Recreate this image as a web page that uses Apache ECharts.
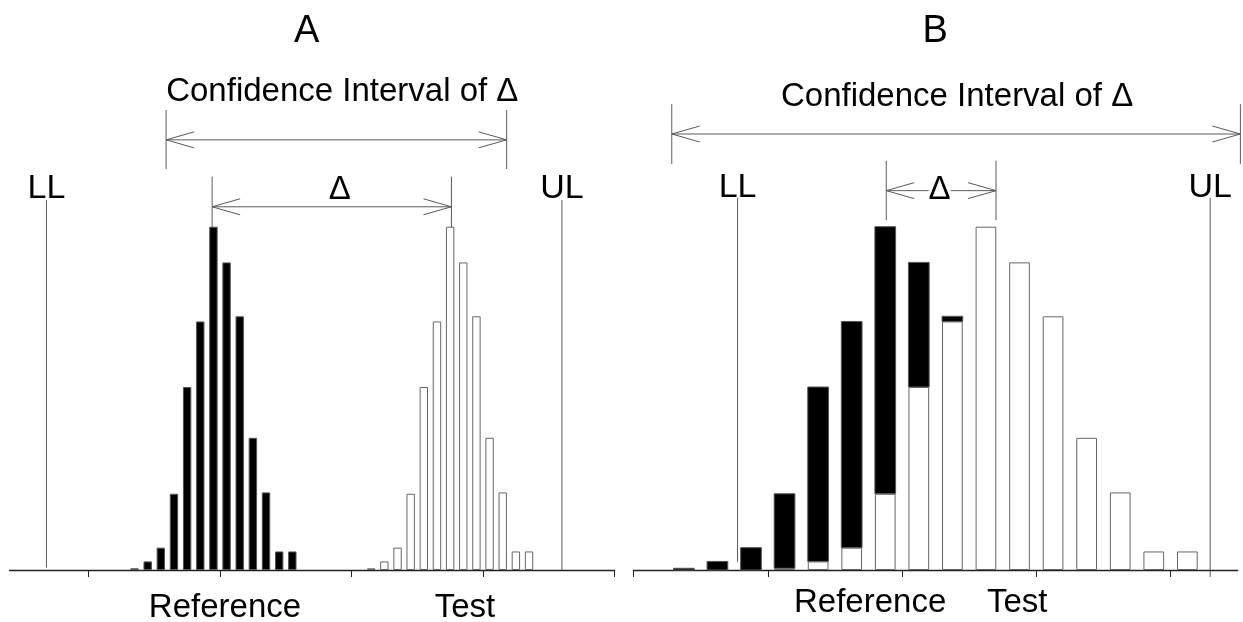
<!DOCTYPE html>
<html>
<head>
<meta charset="utf-8">
<script src="https://cdn.jsdelivr.net/npm/echarts@6/dist/echarts.min.js"></script>
<style>
  html, body { margin: 0; padding: 0; background: #fff; }
  #chart { width: 1243px; height: 622px; }
</style>
</head>
<body>
<div id="chart"></div>
<script>
// Bin heights of the two distributions (peak bin = 100); both share the same shape
const refHeights  = [0.5, 2.5, 6.5, 22.2, 53.3, 72.4, 100, 89.6, 73.9, 38.5, 22.6, 5.4, 5.4];
const testHeights = [0.5, 2.5, 6.5, 22.2, 53.3, 72.4, 100, 89.6, 73.9, 38.5, 22.6, 5.4, 5.4];

// Panel A: narrow bins (x in bin units)
const aRefFirstBin  = 13.5;
const aTestFirstBin = 31.5;
const aTicks  = [10, 20, 30, 40, 50];
const aLL = 6.8, aUL = 46.0;
const aCI    = [15.9, 41.8];
const aDelta = [19.4, 37.6];

// Panel B: wide bins (x in bin units), distributions overlap
const bRefFirstBin  = 1.5;
const bTestFirstBin = 4.5;
const bTicks  = [0, 4, 8, 12, 16];
const bLL = 3.1, bUL = 17.18;
const bCI    = [1.14, 18.08];
const bDelta = [7.53, 10.8];

const panelTitles = ['A', 'B'];
const groupNames  = ['Reference', 'Test'];

const toPoints = (heights, first) => heights.map((h, i) => [first + i, h]);

// height of the test bin standing in front of reference bin i in panel B
const bShift = bTestFirstBin - bRefFirstBin;
const testInFront = i => {
  const j = i - bShift;
  return (j >= 0 && j < testHeights.length) ? testHeights[j] : 0;
};

const FONT = '"Liberation Sans", Arial, sans-serif';
const LINE = '#5a5a5a';
const AXIS = '#222';
const B_BAR_W = 20.7;

function xAxisCfg(gridIndex, min, max, ticks) {
  return {
    type: 'value', gridIndex, min, max,
    axisLine: { show: true, onZero: false, lineStyle: { color: AXIS, width: 1.4 } },
    axisTick: { show: true, customValues: ticks, length: 7, lineStyle: { color: AXIS, width: 1 } },
    axisLabel: { show: false },
    splitLine: { show: false }
  };
}
function yAxisCfg(gridIndex) {
  return { type: 'value', gridIndex, min: 0, max: 100, show: false, splitLine: { show: false } };
}

const chart = echarts.init(document.getElementById('chart'), null, { renderer: 'canvas' });

chart.setOption({
  backgroundColor: '#fff',
  animation: false,
  grid: [
    { left: 9.6,   top: 226.7, width: 604.9, height: 343.3 },
    { left: 633.5, top: 226.7, width: 604.2, height: 343.3 }
  ],
  xAxis: [ xAxisCfg(0, 4, 50, aTicks), xAxisCfg(1, 0, 18, bTicks) ],
  yAxis: [ yAxisCfg(0), yAxisCfg(1) ],
  series: [
    { type: 'bar', xAxisIndex: 0, yAxisIndex: 0, barWidth: 8.4, barGap: '-100%', z: 2,
      data: toPoints(refHeights, aRefFirstBin),
      itemStyle: { color: '#000', borderColor: '#555', borderWidth: 1 } },
    { type: 'bar', xAxisIndex: 0, yAxisIndex: 0, barWidth: 8.4, barGap: '-100%', z: 3,
      data: toPoints(testHeights, aTestFirstBin),
      itemStyle: { color: '#fff', borderColor: '#666', borderWidth: 1 } },
    // reference bins in panel B: only the part rising above the test bin in front is painted
    { type: 'custom', xAxisIndex: 1, yAxisIndex: 1, z: 2,
      data: refHeights.map((h, i) => [bRefFirstBin + i, h, testInFront(i)]),
      encode: { x: 0, y: 1 },
      renderItem(params, api) {
        const x = api.value(0), top = api.value(1), base = Math.max(0, api.value(2));
        if (top <= base) return null;
        const pTop = api.coord([x, top]), pBase = api.coord([x, base]);
        return { type: 'rect',
                 shape: { x: pTop[0] - B_BAR_W / 2, y: pTop[1], width: B_BAR_W, height: pBase[1] - pTop[1] },
                 style: { fill: '#000', stroke: '#555', lineWidth: 1 } };
      } },
    { type: 'bar', xAxisIndex: 1, yAxisIndex: 1, barWidth: B_BAR_W, z: 3,
      data: toPoints(testHeights, bTestFirstBin),
      itemStyle: { color: '#fff', borderColor: '#666', borderWidth: 1 } }
  ]
});

// ---- annotations, placed in data coordinates of each panel ----
const px = (g, x, y) => chart.convertToPixel({ gridIndex: g }, [x, y]);
const els = [];

function vline(g, x, y0, y1) {
  const a = px(g, x, y0), b = px(g, x, y1);
  els.push({ type: 'line', shape: { x1: a[0], y1: a[1], x2: b[0], y2: b[1] },
             style: { stroke: LINE, lineWidth: 1 }, silent: true });
}
function text(g, x, y, str, size, bg) {
  const p = px(g, x, y);
  els.push({ type: 'text', x: p[0], y: p[1], z: 10, silent: true,
             style: { text: str, fill: '#000', font: size + 'px ' + FONT,
                      align: 'center', verticalAlign: 'middle',
                      backgroundColor: bg || null } });
}
// double-headed arrow with open heads
function arrow(g, x0, x1, y) {
  const a = px(g, x0, y), b = px(g, x1, y);
  const L = 28, W = 8;
  els.push({ type: 'line', shape: { x1: a[0], y1: a[1], x2: b[0], y2: b[1] },
             style: { stroke: LINE, lineWidth: 1 }, silent: true });
  els.push({ type: 'polyline', silent: true,
             shape: { points: [[a[0] + L, a[1] - W], [a[0], a[1]], [a[0] + L, a[1] + W]] },
             style: { stroke: LINE, lineWidth: 1, fill: null } });
  els.push({ type: 'polyline', silent: true,
             shape: { points: [[b[0] - L, b[1] - W], [b[0], b[1]], [b[0] - L, b[1] + W]] },
             style: { stroke: LINE, lineWidth: 1, fill: null } });
}

// Panel A
text(0, 26.6, 157.0, panelTitles[0], 38);
text(0, 29.3, 139.2, 'Confidence Interval of \u0394', 33);
vline(0, aCI[0], 134, 116.8); vline(0, aCI[1], 134, 116.8);
arrow(0, aCI[0], aCI[1], 125.3);
vline(0, aDelta[0], 114.6, 99.9); vline(0, aDelta[1], 114.6, 99.9);
arrow(0, aDelta[0], aDelta[1], 105.8);
text(0, 29.1, 110.8, '\u0394', 33);
vline(0, aLL, 107.8, 0.7); vline(0, aUL, 107.8, 0);
text(0, aLL, 111.0, 'LL', 34); text(0, aUL, 111.0, 'UL', 34);
text(0, 20.38, -11.1, groupNames[0], 33);
text(0, 38.63, -11.1, groupNames[1], 33);

// Panel B
text(1, 8.99, 157.0, panelTitles[1], 38);
text(1, 9.64, 137.8, 'Confidence Interval of \u0394', 33);
vline(1, bCI[0], 135.7, 118.3); vline(1, bCI[1], 135.7, 118.3);
arrow(1, bCI[0], bCI[1], 127);
vline(1, bDelta[0], 119.2, 101.9); vline(1, bDelta[1], 119.2, 101.9);
arrow(1, bDelta[0], bDelta[1], 110.5);
text(1, 9.12, 110.7, '\u0394', 33, '#fff');
vline(1, bLL, 108.4, 2.4); vline(1, bUL, 108.4, -2);
text(1, bLL, 111.3, 'LL', 34); text(1, bUL, 111.3, 'UL', 34);
text(1, 7.05, -9.6, groupNames[0], 33);
text(1, 11.43, -9.6, groupNames[1], 33);

chart.setOption({ graphic: { elements: els } });
</script>
</body>
</html>
